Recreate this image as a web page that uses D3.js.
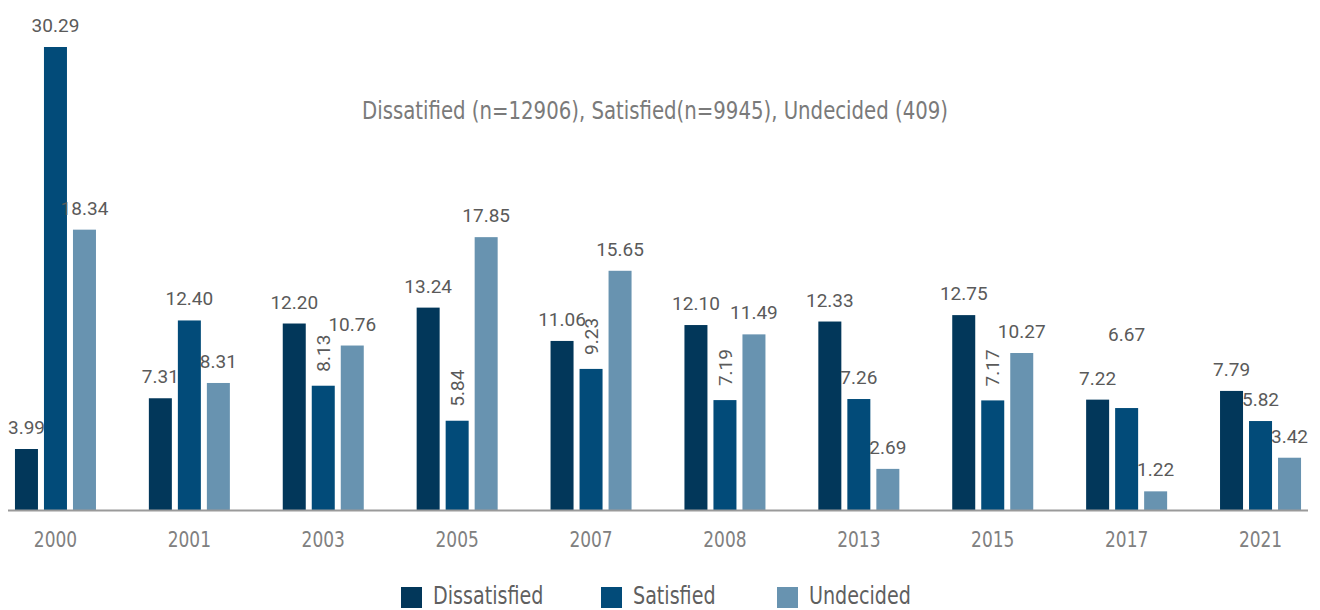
<!DOCTYPE html>
<html>
<head>
<meta charset="utf-8">
<script src="https://cdn.jsdelivr.net/npm/d3@7"></script>
<style>
  html, body { margin: 0; padding: 0; background: #fff; }
  svg { display: block; }
  .narrow { font-family: "Liberation Sans Narrow", "DejaVu Sans Condensed", "Roboto", sans-serif; }
  .val { font-family: Roboto, "Noto Sans", sans-serif; fill: #5a5a5a; }
</style>
</head>
<body>
<svg id="chart" width="1320" height="610"></svg>
<script>
// Survey years and the share (%) of respondents in each group
const years = ["2000", "2001", "2003", "2005", "2007", "2008", "2013", "2015", "2017", "2021"];
const seriesNames = ["Dissatisfied", "Satisfied", "Undecided"];
const dissatisfied = [3.99, 7.31, 12.20, 13.24, 11.06, 12.10, 12.33, 12.75, 7.22, 7.79];
const satisfied    = [30.29, 12.40, 8.13, 5.84, 9.23, 7.19, 7.26, 7.17, 6.67, 5.82];
const undecided    = [18.34, 8.31, 10.76, 17.85, 15.65, 11.49, 2.69, 10.27, 1.22, 3.42];
const titleText = "Dissatified (n=12906), Satisfied(n=9945), Undecided (409)";

const colors = ["#02375a", "#024b79", "#6893b0"];
const seriesValues = [dissatisfied, satisfied, undecided];

// Labels that are turned upright to fit between neighbouring bars
const verticalLabels = new Set(["2003|Satisfied", "2005|Satisfied", "2007|Satisfied", "2008|Satisfied", "2015|Satisfied"]);
// Labels lifted clear of their neighbours
const liftedLabels = new Map([["2017|Satisfied", 52]]);

const rows = years.map((y, i) => ({
  year: y,
  values: seriesNames.map((s, j) => ({ year: y, series: s, idx: j, value: seriesValues[j][i] }))
}));

const svg = d3.select("#chart");
const baseY = 510;
// horizontal squeeze for the condensed caption font
const squeeze = 0.86;

const x = d3.scaleBand()
  .domain(years)
  .range([8, 1308])
  .paddingInner(0.395)
  .paddingOuter(0.052);

const xInner = d3.scaleBand()
  .domain(seriesNames)
  .range([0, x.bandwidth()])
  .paddingInner(0.207)
  .paddingOuter(0);

const y = d3.scaleLinear()
  .domain([0, 30.29])
  .range([baseY, 47]);

// Title
svg.append("text")
  .attr("class", "narrow")
  .attr("transform", `translate(655,119) scale(0.877,1)`)
  .attr("text-anchor", "middle")
  .attr("font-size", 25)
  .attr("fill", "#7a7a7a")
  .text(titleText);

// Bars
const groups = svg.append("g").selectAll("g")
  .data(rows)
  .join("g")
  .attr("transform", d => `translate(${x(d.year)},0)`);

groups.selectAll("rect")
  .data(d => d.values)
  .join("rect")
  .attr("x", d => xInner(d.series))
  .attr("width", xInner.bandwidth())
  .attr("y", d => y(d.value))
  .attr("height", d => baseY - y(d.value))
  .attr("fill", d => colors[d.idx]);

// Value labels
groups.selectAll("text")
  .data(d => d.values)
  .join("text")
  .attr("class", "val")
  .attr("font-size", 19)
  .each(function (d) {
    const key = d.year + "|" + d.series;
    const cx = xInner(d.series) + xInner.bandwidth() / 2;
    const t = d3.select(this).text(d.value.toFixed(2));
    if (verticalLabels.has(key)) {
      t.attr("text-anchor", "start")
        .attr("dy", "0.35em")
        .attr("transform", `translate(${cx},${y(d.value) - 14}) rotate(-90)`);
    } else {
      const lift = liftedLabels.get(key) || 0;
      t.attr("text-anchor", "middle")
        .attr("x", cx)
        .attr("y", y(d.value) - 15 - lift);
    }
  });

// X axis
const xAxis = svg.append("g")
  .attr("transform", `translate(0,${baseY})`)
  .call(d3.axisBottom(x).tickSize(0).tickPadding(21));
xAxis.select(".domain").attr("stroke", "#9a9a9a").attr("stroke-width", 2).attr("d", "M8,0.5H1308");
xAxis.selectAll(".tick text")
  .attr("class", "narrow")
  .attr("font-size", 22)
  .attr("fill", "#808080")
  .attr("transform", `scale(${squeeze},1)`);

// Legend
const legendX = [401, 601, 777];
const legend = svg.append("g").selectAll("g")
  .data(seriesNames)
  .join("g")
  .attr("transform", (d, i) => `translate(${legendX[i]},587)`);
legend.append("rect")
  .attr("width", 21)
  .attr("height", 21)
  .attr("fill", (d, i) => colors[i]);
legend.append("text")
  .attr("class", "narrow")
  .attr("transform", "translate(32,17) scale(0.85,1)")
  .attr("font-size", 25)
  .attr("fill", "#5f5f5f")
  .text(d => d);
</script>
</body>
</html>
